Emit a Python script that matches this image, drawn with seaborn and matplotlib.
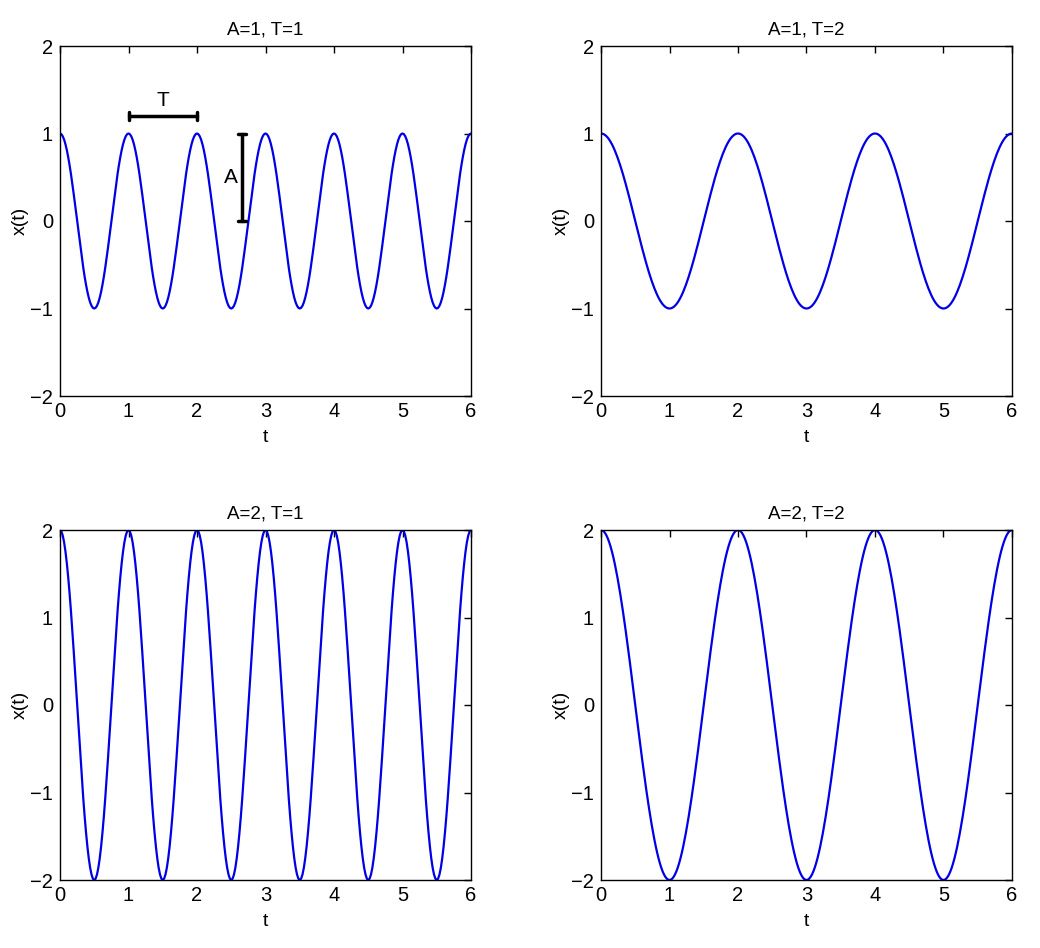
import numpy as np
import pandas as pd
import matplotlib
matplotlib.use("Agg")
import matplotlib.pyplot as plt
import seaborn as sns

# Panel parameters read from the titles
amplitudes = [1, 1, 2, 2]
periods = [1, 2, 1, 2]
titles = ["A=1, T=1", "A=1, T=2", "A=2, T=1", "A=2, T=2"]
xticks = [0, 1, 2, 3, 4, 5, 6]
yticks = [-2, -1, 0, 1, 2]

sns.set_theme(style="white")
plt.rcParams['font.family'] = ['Liberation Sans', 'DejaVu Sans']
plt.rcParams['font.size'] = 12
plt.rcParams['text.color'] = 'black'
plt.rcParams['axes.labelcolor'] = 'black'

fig = plt.figure(figsize=(10.4, 9.48), dpi=100)
W, H = 1040, 948
boxes = [(60, 46), (601, 46), (60, 530), (601, 530)]
aw, ah = 411, 350

t = np.linspace(0, 6, 301)
for i, (A, T) in enumerate(zip(amplitudes, periods)):
    x0, y0 = boxes[i]
    ax = fig.add_axes([x0 / W, 1 - (y0 + ah) / H, aw / W, ah / H])
    df = pd.DataFrame({"t": t, "x": A * np.cos(2 * np.pi * t / T)})
    sns.lineplot(data=df, x="t", y="x", ax=ax, color="#0000e6", linewidth=1.6)
    ax.set_xlim(0, 6)
    ax.set_ylim(-2, 2)
    ax.set_xticks(xticks)
    ax.set_yticks(yticks)
    ax.set_yticklabels([str(v).replace('-', '\u2212') for v in yticks])
    ax.tick_params(direction="in", top=True, right=True, length=5, width=1,
                   labelsize=14.5, colors="black")
    ax.tick_params(axis="x", pad=4)
    ax.tick_params(axis="y", pad=5)
    for s in ax.spines.values():
        s.set_color("black")
        s.set_linewidth(1)
    ax.set_xlabel("t", fontsize=14, labelpad=6)
    ax.set_ylabel("x(t)", fontsize=14, labelpad=1)
    ax.set_title(titles[i], fontsize=13.5, pad=8, color="black")
    if i == 0:
        ax.plot([1, 2], [1.2, 1.2], color="black", lw=2.5)
        ax.plot([1, 1], [1.15, 1.25], color="black", lw=2.5)
        ax.plot([2, 2], [1.15, 1.25], color="black", lw=2.5)
        ax.text(1.5, 1.27, "T", ha="center", va="bottom", fontsize=15)
        ax.plot([2.66, 2.66], [0, 1], color="black", lw=2.5)
        ax.plot([2.6, 2.72], [1, 1], color="black", lw=2.5)
        ax.plot([2.6, 2.72], [0, 0], color="black", lw=2.5)
        ax.text(2.6, 0.5, "A", ha="right", va="center", fontsize=15)

fig.savefig("out.png", dpi=100)
